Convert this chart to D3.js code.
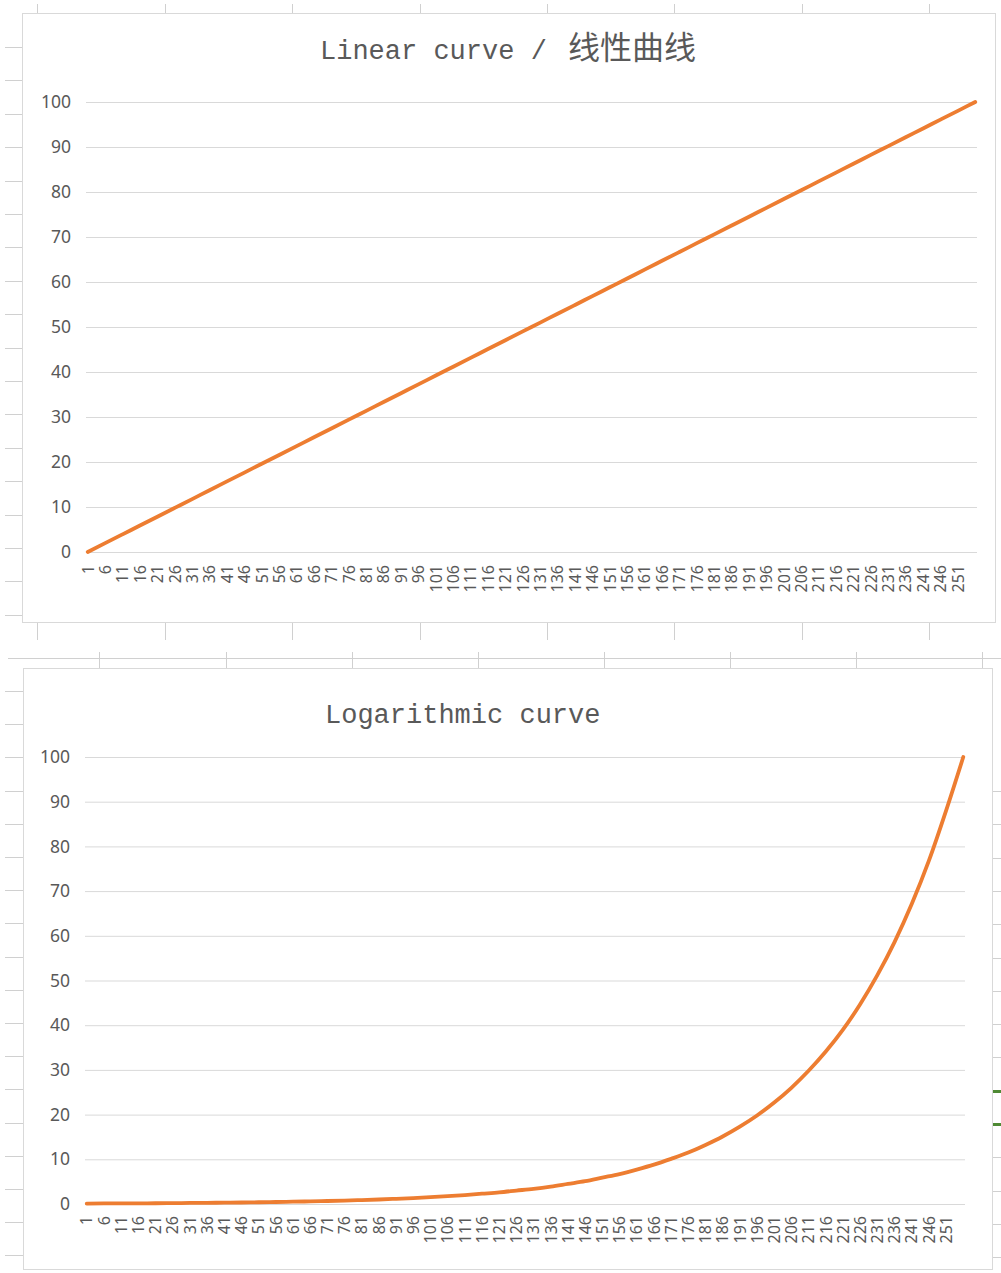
<!DOCTYPE html>
<html>
<head>
<meta charset="utf-8">
<script src="https://cdn.jsdelivr.net/npm/d3@7"></script>
<style>
body { margin: 0; background: #fff; }
svg { display: block; }
</style>
</head>
<body>
<svg id="sheet" width="1001" height="1273"></svg>
<script>
// x categories 1..256, labelled every 5th
var categories = d3.range(1, 257);
var tickLabels = [1, 6, 11, 16, 21, 26, 31, 36, 41, 46, 51, 56, 61, 66, 71, 76, 81, 86, 91, 96,
    101, 106, 111, 116, 121, 126, 131, 136, 141, 146, 151, 156, 161, 166, 171, 176, 181, 186, 191, 196,
    201, 206, 211, 216, 221, 226, 231, 236, 241, 246, 251];
// points (every 5th category + the last one)
var sampleIdx = tickLabels.concat([256]);
var linearValues = [0, 1.96, 3.92, 5.88, 7.84, 9.80, 11.76, 13.73, 15.69, 17.65, 19.61, 21.57, 23.53,
    25.49, 27.45, 29.41, 31.37, 33.33, 35.29, 37.25, 39.22, 41.18, 43.14, 45.10, 47.06, 49.02,
    50.98, 52.94, 54.90, 56.86, 58.82, 60.78, 62.75, 64.71, 66.67, 68.63, 70.59, 72.55, 74.51,
    76.47, 78.43, 80.39, 82.35, 84.31, 86.27, 88.24, 90.20, 92.16, 94.12, 96.08, 98.04, 100];
var logValues = [0.10, 0.12, 0.13, 0.15, 0.17, 0.20, 0.23, 0.26, 0.30, 0.34, 0.39, 0.45, 0.51,
    0.59, 0.67, 0.77, 0.88, 1.01, 1.16, 1.33, 1.52, 1.74, 2.0, 2.3, 2.6, 3.0,
    3.4, 3.9, 4.5, 5.1, 5.9, 6.7, 7.7, 8.8, 10.1, 11.5, 13.2, 15.1, 17.3,
    19.8, 22.7, 26.0, 29.8, 34.1, 39.0, 44.7, 51.2, 58.6, 67.1, 76.8, 88.0, 100];
var yTicks = [0, 10, 20, 30, 40, 50, 60, 70, 80, 90, 100];

var svg = d3.select("#sheet");
var sheetLine = "#d0d0d0";

// --- spreadsheet cells showing around the charts ---
var bg = svg.append("g").attr("stroke", sheetLine).attr("stroke-width", 1);
var topCols = [37, 165, 292, 420, 547, 674, 802, 929];
var lowCols = [99, 226, 352, 478, 604, 730, 856, 982];
topCols.forEach(function (x) {
    bg.append("line").attr("x1", x + .5).attr("x2", x + .5).attr("y1", 4).attr("y2", 13);
    bg.append("line").attr("x1", x + .5).attr("x2", x + .5).attr("y1", 622).attr("y2", 640);
});
lowCols.forEach(function (x) {
    bg.append("line").attr("x1", x + .5).attr("x2", x + .5).attr("y1", 652).attr("y2", 668);
});
bg.append("line").attr("x1", 8).attr("x2", 1001).attr("y1", 658.5).attr("y2", 658.5);
d3.range(47, 616, 33.4).forEach(function (y) {
    bg.append("line").attr("x1", 5).attr("x2", 22).attr("y1", Math.round(y) + .5).attr("y2", Math.round(y) + .5);
});
d3.range(691, 1262, 33.2).forEach(function (y) {
    bg.append("line").attr("x1", 5).attr("x2", 23).attr("y1", Math.round(y) + .5).attr("y2", Math.round(y) + .5);
});
d3.range(791, 1262, 33.3).forEach(function (y, i) {
    var green = (i === 9 || i === 10);
    bg.append("line")
        .attr("x1", 993).attr("x2", 1001)
        .attr("y1", Math.round(y) + .5).attr("y2", Math.round(y) + .5)
        .attr("stroke", green ? "#4f8a34" : sheetLine)
        .attr("stroke-width", green ? 3 : 1);
});

function drawChart(opt) {
    var g = svg.append("g");

    // chart area frame
    g.append("rect")
        .attr("x", opt.frame[0] + .5).attr("y", opt.frame[1] + .5)
        .attr("width", opt.frame[2]).attr("height", opt.frame[3])
        .attr("fill", "#fff")
        .attr("stroke", "#d9d9d9");

    var x = d3.scaleBand()
        .domain(categories)
        .range([opt.left, opt.right]);
    var y = d3.scaleLinear()
        .domain([0, 100])
        .range([opt.bottom, opt.top]);

    // value axis + gridlines
    var yAxis = g.append("g")
        .attr("transform", "translate(" + opt.left + ",0)")
        .call(d3.axisLeft(y)
            .tickValues(yTicks)
            .tickSize(-(opt.right - opt.left))
            .tickPadding(15));
    yAxis.select(".domain").remove();
    yAxis.selectAll("line").attr("stroke", "#d9d9d9");
    yAxis.selectAll("text")
        .attr("fill", "#595959")
        .style("font-family", "'Noto Sans', sans-serif")
        .style("font-size", "17.5px");

    // category axis labels, rotated
    var xAxis = g.append("g")
        .attr("transform", "translate(0," + opt.bottom + ")")
        .call(d3.axisBottom(x)
            .tickValues(tickLabels)
            .tickSize(0)
            .tickPadding(0));
    xAxis.select(".domain").remove();
    xAxis.selectAll("text")
        .attr("fill", "#595959")
        .attr("text-anchor", "end")
        .attr("transform", "translate(0," + opt.labelGap + ") rotate(-90)")
        .attr("x", 0).attr("y", 0)
        .attr("dy", "0.36em")
        .style("font-family", "'Noto Sans', sans-serif")
        .style("font-size", "16px");

    var pts = sampleIdx.map(function (c, i) {
        return [x(c) + x.bandwidth() / 2, y(opt.values[i])];
    });
    g.append("path")
        .attr("d", d3.line().curve(d3.curveMonotoneX)(pts))
        .attr("fill", "none")
        .attr("stroke", "#ed7d31")
        .attr("stroke-width", 3.8)
        .attr("stroke-linecap", "round")
        .attr("stroke-linejoin", "round");

    // title: monospaced latin part, CJK part slightly bigger
    var t = g.append("text")
        .attr("x", opt.titleX)
        .attr("y", opt.titleY)
        .attr("text-anchor", "start")
        .attr("fill", "#595959")
        .style("font-family", "'Courier New', 'Nimbus Mono PS', FreeMono, 'Liberation Mono', monospace")
        .style("font-size", "27px");
    t.append("tspan").text(opt.title[0]);
    if (opt.title[1]) {
        t.append("tspan")
            .attr("dx", 5)
            .style("font-family", "'Noto Sans CJK SC', sans-serif")
            .style("font-size", "32px")
            .text(opt.title[1]);
    }
}

drawChart({
    frame: [22, 13, 973, 609],
    left: 86, right: 977, top: 102, bottom: 552,
    labelGap: 13,
    values: linearValues,
    title: ["Linear curve / ", "线性曲线"],
    titleX: 320, titleY: 59
});

drawChart({
    frame: [23, 668, 969, 601],
    left: 85, right: 965, top: 757, bottom: 1204,
    labelGap: 12,
    values: logValues,
    title: ["Logarithmic curve"],
    titleX: 325, titleY: 723
});
</script>
</body>
</html>
